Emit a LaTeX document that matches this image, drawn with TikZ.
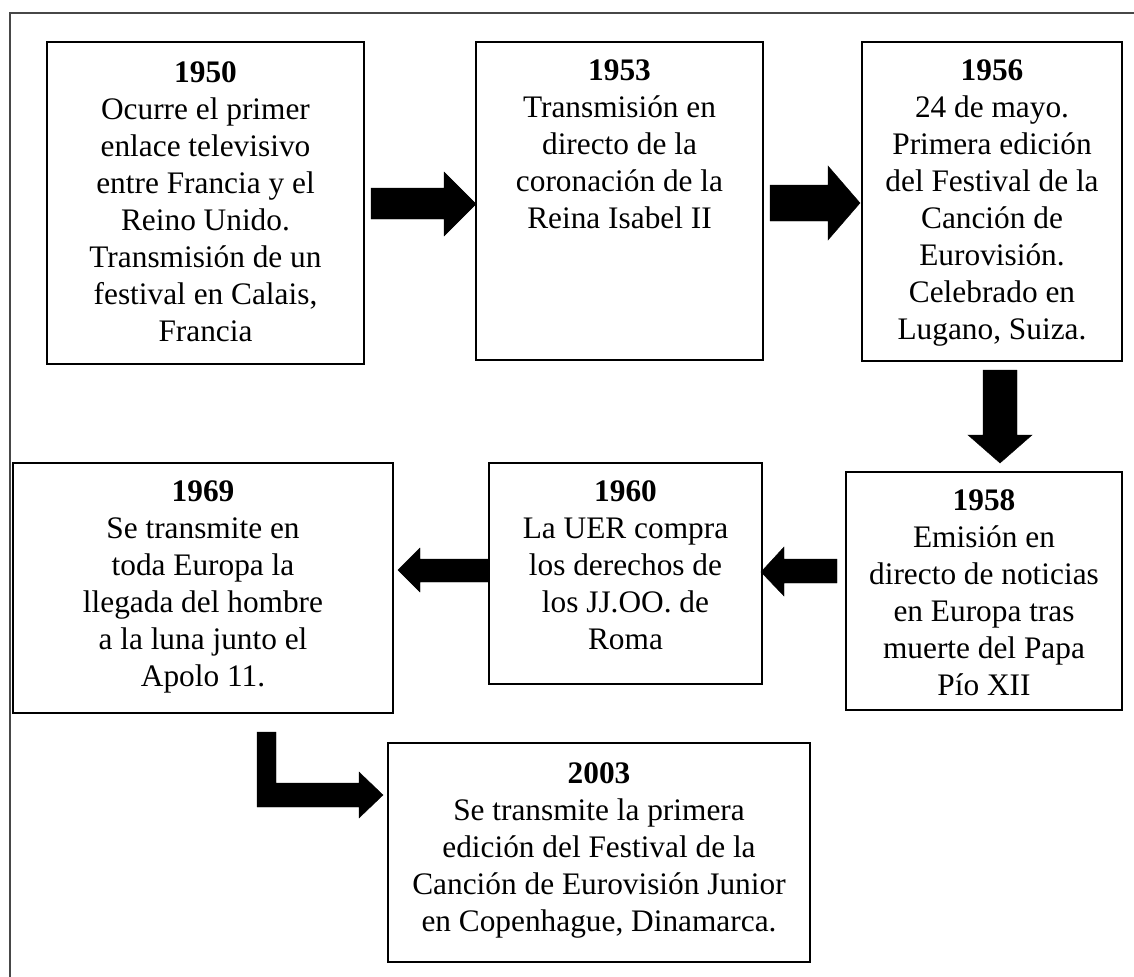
\documentclass[tikz,border=0pt]{standalone}
\usepackage{fontspec}
\setmainfont{Liberation Serif}
\begin{document}
\begin{tikzpicture}[x=0.75pt,y=-0.75pt,
  box/.style={draw=black,line width=1.1pt},
  frame/.style={draw=black!72,line width=1.5pt},
  txt/.style={anchor=north,align=center,inner sep=0pt,font=\fontsize{23.5}{27.8}\selectfont},
  blk/.style={fill=black,draw=black,line width=0.3pt}]
\useasboundingbox (0,0) rectangle (1134,977);
\fill[white] (0,0) rectangle (1134,977);
% outer frame (top and left visible)
\draw[frame] (1134,13) -- (10,13) -- (10,977);
% boxes
\draw[box] (47,42) rectangle (364,364) coordinate (b1950);
\draw[box] (476,42) rectangle (763,360) coordinate (b1953);
\draw[box] (862,42) rectangle (1122,361) coordinate (b1956);
\draw[box] (846,472) rectangle (1122,710) coordinate (b1958);
\draw[box] (489,463) rectangle (762,684) coordinate (b1960);
\draw[box] (13,463) rectangle (393,713) coordinate (b1969);
\draw[box] (388,743) rectangle (810,962) coordinate (b2003);
% texts
\node[txt] (t1950) at (205.5,61) {\textbf{1950}\\Ocurre el primer\\enlace televisivo\\entre Francia y el\\Reino Unido.\\Transmisión de un\\festival en Calais,\\Francia};
\node[txt] (t1953) at (619.5,59) {\textbf{1953}\\Transmisión en\\directo de la\\coronación de la\\Reina Isabel II};
\node[txt] (t1956) at (992,59) {\textbf{1956}\\24 de mayo.\\Primera edición\\del Festival de la\\Canción de\\Eurovisión.\\Celebrado en\\Lugano, Suiza.};
\node[txt] (t1958) at (984,489) {\textbf{1958}\\Emisión en\\directo de noticias\\en Europa tras\\muerte del Papa\\Pío XII};
\node[txt] (t1960) at (625.5,480) {\textbf{1960}\\La UER compra\\los derechos de\\los JJ.OO. de\\Roma};
\node[txt] (t1969) at (203,480) {\textbf{1969}\\Se transmite en\\toda Europa la\\llegada del hombre\\a la luna junto el\\Apolo 11.};
\node[txt] (t2003) at (599,762) {\textbf{2003}\\Se transmite la primera\\edición del Festival de la\\Canción de Eurovisión Junior\\en Copenhague, Dinamarca.};
% block arrows
\filldraw[blk] (371,188) -- (444,188) -- (444,172) -- (476,204) -- (444,236) -- (444,219) -- (371,219) -- cycle;
\filldraw[blk] (770,185) -- (828,185) -- (828,166) -- (860,203) -- (828,240) -- (828,221) -- (770,221) -- cycle;
\filldraw[blk] (983,370) -- (1017,370) -- (1017,435) -- (1032,435) -- (1000,463) -- (968,435) -- (983,435) -- cycle;
\filldraw[blk] (837,559) -- (784,559) -- (784,547) -- (761,572) -- (784,596) -- (784,583) -- (837,583) -- cycle;
\filldraw[blk] (488,559) -- (420,559) -- (420,548) -- (398,570) -- (420,592) -- (420,582) -- (488,582) -- cycle;
\filldraw[blk] (257,732) -- (276,732) -- (276,783) -- (359,783) -- (359,772) -- (383,795) -- (359,818) -- (359,807) -- (257,807) -- cycle;
\end{tikzpicture}
\end{document}
